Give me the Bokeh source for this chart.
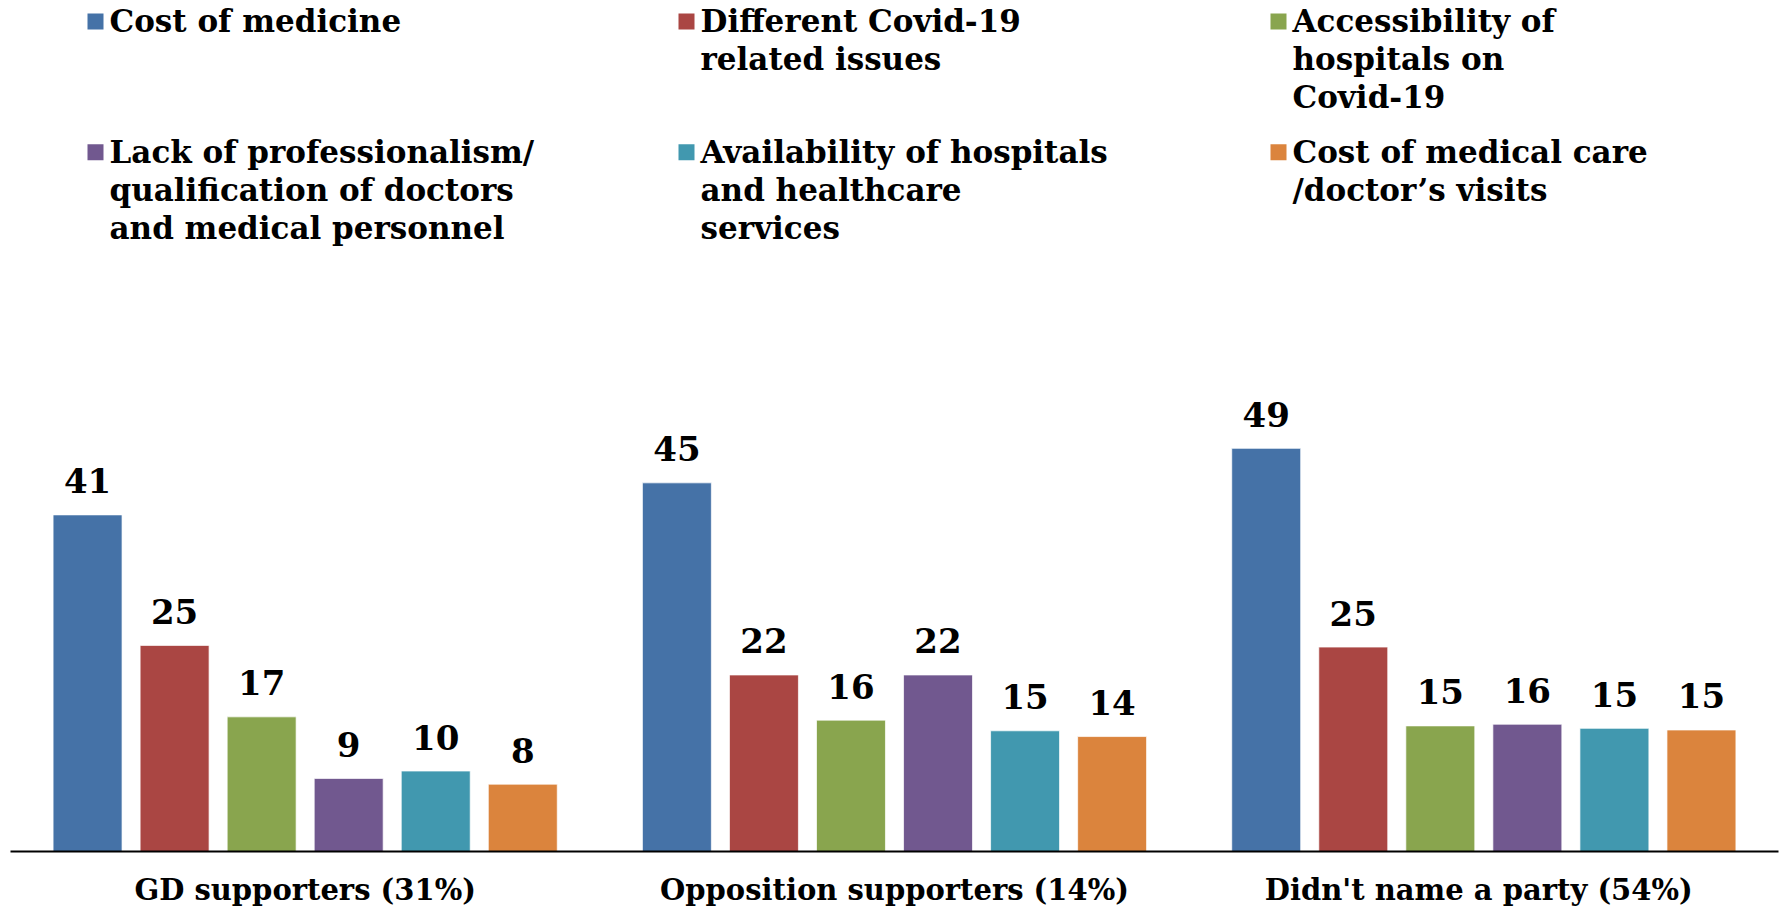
from bokeh.plotting import figure
from bokeh.models import ColumnDataSource, FactorRange, Range1d
from bokeh.transform import dodge
from bokeh.core.properties import value
from bokeh.embed import file_html
from bokeh.resources import INLINE

# ---------------- data ----------------
groups = ["GD supporters (31%)", "Opposition supporters (14%)", "Didn't name a party  (54%)"]

series_names = [
    "Cost of medicine",
    "Different Covid-19\nrelated issues",
    "Accessibility of\nhospitals on\nCovid-19",
    "Lack of professionalism/\nqualification of doctors\nand medical personnel",
    "Availability of hospitals\nand healthcare\nservices",
    "Cost of medical care\n/doctor\u2019s visits",
]
colors = ["#4572A7", "#AA4643", "#89A54E", "#71588F", "#4198AF", "#DB843D"]

# bar heights (per series, one value per group)
cost_of_medicine = [41.0, 44.9, 49.1]
covid_issues = [25.1, 21.5, 24.9]
hospital_access_covid = [16.4, 16.0, 15.3]
lack_professionalism = [8.9, 21.5, 15.5]
hospital_availability = [9.8, 14.7, 15.0]
cost_medical_care = [8.2, 14.0, 14.8]

# data labels printed on the chart
cost_of_medicine_lbl = [41, 45, 49]
covid_issues_lbl = [25, 22, 25]
hospital_access_covid_lbl = [17, 16, 15]
lack_professionalism_lbl = [9, 22, 16]
hospital_availability_lbl = [10, 15, 15]
cost_medical_care_lbl = [8, 14, 15]

series_values = [cost_of_medicine, covid_issues, hospital_access_covid,
                 lack_professionalism, hospital_availability, cost_medical_care]
series_labels = [cost_of_medicine_lbl, covid_issues_lbl, hospital_access_covid_lbl,
                 lack_professionalism_lbl, hospital_availability_lbl, cost_medical_care_lbl]

# ---------------- layout ----------------
FONT = "DejaVu Serif"
W, H = 1781, 909
LEFT, RIGHT, TOP, BOTTOM = 10, 3, 0, 57
FRAME_W = W - LEFT - RIGHT
FRAME_H = H - TOP - BOTTOM
Y_END = 103.65

p = figure(
    x_range=FactorRange(*groups, range_padding=0),
    y_range=Range1d(0, Y_END),
    width=W, height=H,
    min_border_left=LEFT, min_border_right=RIGHT, min_border_top=TOP, min_border_bottom=BOTTOM,
    y_axis_location=None,
    toolbar_location=None, output_backend="svg",
    background_fill_color="white", border_fill_color="white",
)
p.outline_line_color = None
p.xgrid.grid_line_color = None
p.ygrid.grid_line_color = None

pitch = 0.1477
bar_w = 0.117
for i, (vals, labs, col) in enumerate(zip(series_values, series_labels, colors)):
    src = ColumnDataSource(dict(group=groups, val=vals, lab=[str(v) for v in labs]))
    off = (i - 2.5) * pitch
    p.vbar(x=dodge("group", off, range=p.x_range), top="val", width=bar_w, bottom=0,
           source=src, fill_color=col, line_color="white", line_alpha=0.7, line_width=1)
    p.text(x=dodge("group", off, range=p.x_range), y="val", text="lab", source=src,
           text_align="center", text_baseline="alphabetic", y_offset=-34,
           text_font=value(FONT), text_font_style="bold", text_font_size="34px",
           text_color="black")

# axis
ax = p.xaxis[0]
ax.axis_line_color = "black"
ax.axis_line_width = 2
ax.major_tick_line_color = None
ax.minor_tick_line_color = None
ax.major_tick_out = 0
ax.major_tick_in = 0
ax.major_label_standoff = 21
ax.major_label_text_font = FONT
ax.major_label_text_font_style = "bold"
ax.major_label_text_font_size = "29px"
ax.major_label_text_color = "black"

# ---------------- legend (manual, 3 columns x 2 rows) ----------------
def dx(px):  # canvas pixel -> categorical synthetic coordinate
    return (px - LEFT) / FRAME_W * len(groups)

def dy(py):  # canvas pixel from top -> data y
    return (FRAME_H - (py - TOP)) / FRAME_H * Y_END

col_swatch_x = [95, 686, 1278]
col_text_x = [109, 700, 1292]
row_y = [21, 152]
line_gap = 38

sw_x, sw_y, sw_c = [], [], []
tx, ty, tt = [], [], []
for k, name in enumerate(series_names):
    r, c = divmod(k, 3)
    sw_x.append(dx(col_swatch_x[c]))
    sw_y.append(dy(row_y[r]))
    sw_c.append(colors[k])
    for j, line in enumerate(name.split("\n")):
        tx.append(dx(col_text_x[c]))
        ty.append(dy(row_y[r] + j * line_gap))
        tt.append(line)

p.rect(x=sw_x, y=sw_y, width=16, height=16, width_units="screen", height_units="screen",
       fill_color=sw_c, line_color=None)
p.text(x=tx, y=ty, text=tt, text_align="left", text_baseline="alphabetic",
       text_font=value(FONT), text_font_style="bold", text_font_size="31px",
       text_color="black")

open("out.html", "w").write(file_html(p, INLINE))
